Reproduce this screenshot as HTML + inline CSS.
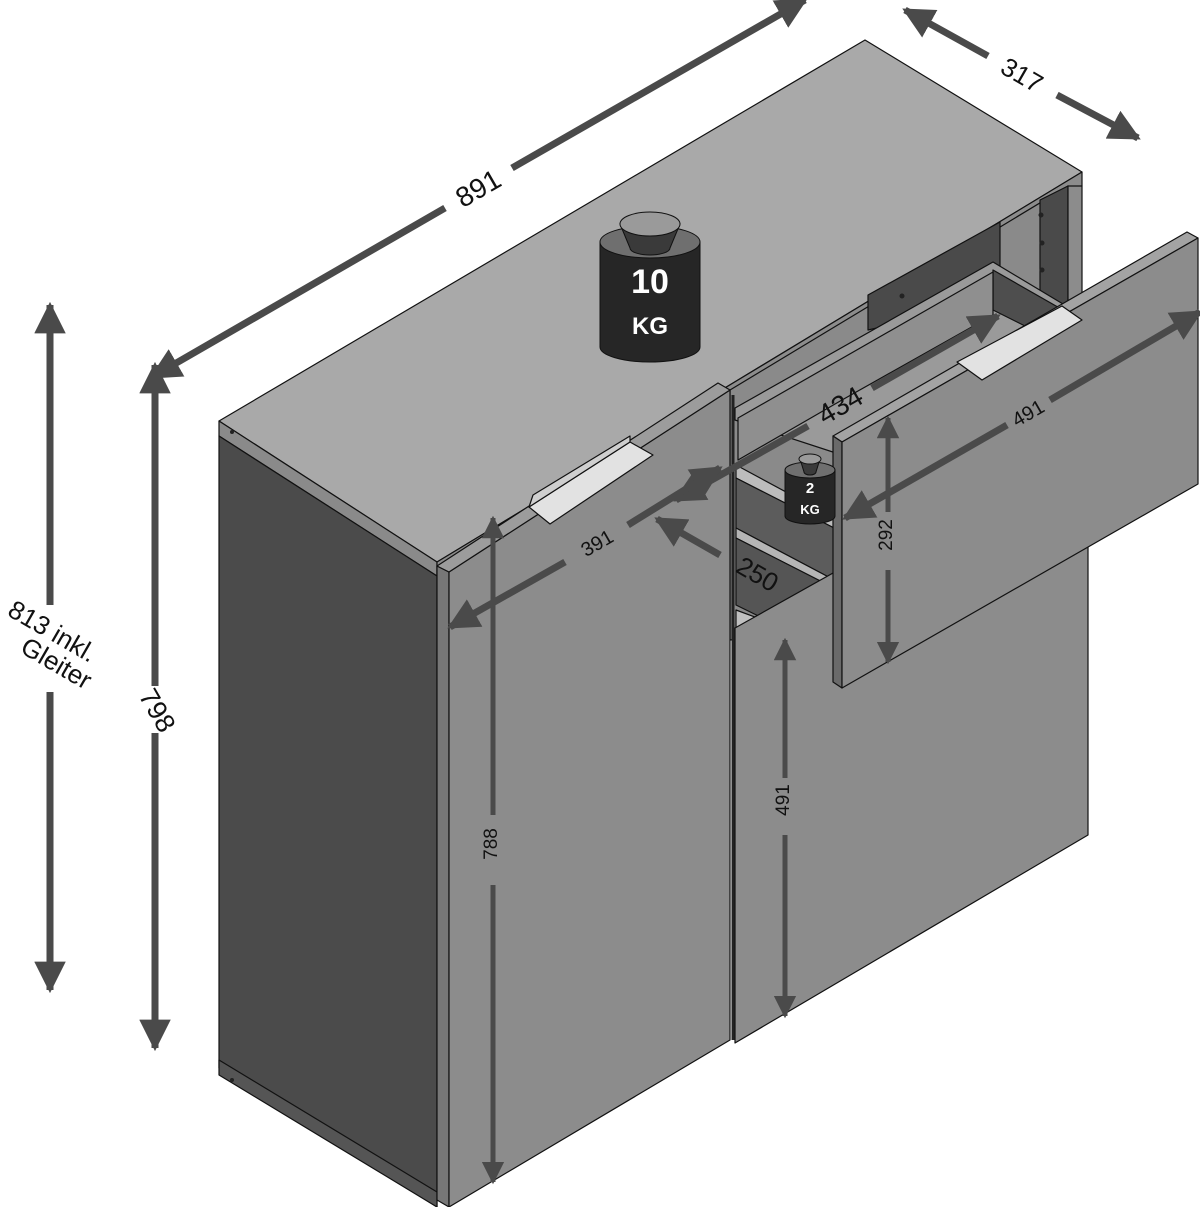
<!DOCTYPE html>
<html><head><meta charset="utf-8"><style>
html,body{margin:0;padding:0;background:#fff;}
svg{display:block;}
text{font-family:"Liberation Sans",sans-serif;}
</style></head><body>
<svg width="1200" height="1207" viewBox="0 0 1200 1207" xmlns="http://www.w3.org/2000/svg">
<defs>
<marker id="ah" viewBox="0 0 10 10" refX="9" refY="5" markerWidth="4.5" markerHeight="4.5" orient="auto-start-reverse" markerUnits="strokeWidth">
<path d="M0,0 L10,5 L0,10 z" fill="#4a4a4a"/></marker>
</defs>
<g stroke="#111" stroke-width="1.2" stroke-linejoin="round">
<polygon points="219,421 865,40 1082,172 437,562" fill="#a9a9a9"/>
<polygon points="219,421 437,562 437,576 219,436" fill="#8a8a8a"/>
<polygon points="437,562 1082,172 1082,186 437,576" fill="#8c8c8c"/>
<polygon points="219,436 437,576 437,1207 219,1068" fill="#4b4b4b"/>
<polygon points="219,1060 437,1192 437,1207 219,1075" fill="#555"/>
<!-- interior opening -->
<polygon points="730,390 1068,186 1068,600 730,640" fill="#8a8a8a"/>
<polygon points="1040,200 1068,186 1068,320 1040,320" fill="#4a4a4a"/>
<polygon points="1068,186 1082,186 1082,560 1068,560" fill="#8c8c8c"/>
<polygon points="868,295 1000,222 1000,300 868,330" fill="#4a4a4a"/>
<!-- drawer box -->
<polygon points="735,408 993,262 1063,304 1063,330 842,455 735,420" fill="#9a9a9a"/>
<polygon points="993,270 1063,310 1063,345 993,310" fill="#4e4e4e"/>
<polygon points="738,418 993,272 993,315 842,400 738,460" fill="#8f8f8f"/>
<polygon points="736,465 838,520 838,530 736,478" fill="#bcbcbc"/>
<polygon points="736,478 838,530 838,582 736,528" fill="#5c5c5c"/>
<polygon points="736,528 838,582 838,590 736,538" fill="#b5b5b5"/>
<polygon points="736,538 838,590 838,655 736,605" fill="#555"/>
<polygon points="736,610 790,630 736,640" fill="#c0c0c0"/>
<polygon points="735,628 1088,430 1088,835 735,1043" fill="#8c8c8c"/>
<polygon points="437,566 449,572 449,1207 437,1200" fill="#777"/>
<polygon points="449,572 730,390 730,1040 449,1207" fill="#8c8c8c"/>
<polygon points="437,566 718,383 730,390 449,572" fill="#9c9c9c"/>
<line x1="733" y1="395" x2="733" y2="1040" stroke="#222" stroke-width="3"/>
<polygon points="529,507 630,442 653,455 550,524" fill="#e2e2e2"/>
<polygon points="533,495 630,436 630,442 529,507" fill="#cfcfcf"/>
<polygon points="833,436 1187,232 1198,238 842,442" fill="#a3a3a3"/>
<polygon points="833,436 842,442 842,688 833,682" fill="#6a6a6a"/>
<polygon points="842,442 1198,238 1198,484 842,688" fill="#8c8c8c"/>
<polygon points="957,362 1062,306 1082,320 982,380" fill="#e2e2e2"/>
</g>
<g fill="#222"><circle cx="1041" cy="215" r="2.5"/><circle cx="1042" cy="243" r="2.5"/><circle cx="1042" cy="270" r="2.5"/><circle cx="902" cy="296" r="2.5"/><circle cx="232" cy="432" r="2"/><circle cx="232" cy="1080" r="2"/></g>

<g stroke="#111" stroke-width="1">
<path d="M600,242 L600,347 A50,15 0 0 0 700,347 L700,242 Z" fill="#262626"/>
<ellipse cx="650" cy="242" rx="50" ry="16" fill="#6f6f6f"/>
<path d="M620,224 L630,248 A20,7 0 0 0 670,248 L680,224 Z" fill="#3a3a3a"/>
<ellipse cx="650" cy="224" rx="30" ry="12" fill="#9a9a9a"/>
</g>
<text x="650" y="293" fill="#fff" font-size="34" font-weight="bold" text-anchor="middle">10</text>
<text x="650" y="334" fill="#fff" font-size="24" font-weight="bold" text-anchor="middle">KG</text>
<g stroke="#111" stroke-width="1">
<path d="M785,470 L785,516 A25,8 0 0 0 835,516 L835,470 Z" fill="#262626"/>
<ellipse cx="810" cy="470" rx="25" ry="8" fill="#6f6f6f"/>
<path d="M800,459 L804,472 A6,3 0 0 0 816,472 L820,459 Z" fill="#3a3a3a"/>
<ellipse cx="810" cy="459" rx="11" ry="5" fill="#9a9a9a"/>
</g>
<text x="810" y="493" fill="#fff" font-size="15" font-weight="bold" text-anchor="middle">2</text>
<text x="810" y="514" fill="#fff" font-size="13" font-weight="bold" text-anchor="middle">KG</text>

<g stroke="#4a4a4a" stroke-width="7" fill="none">
<line x1="152" y1="377" x2="445" y2="208" marker-start="url(#ah)"/>
<line x1="512" y1="168" x2="805" y2="0" marker-end="url(#ah)"/>
<line x1="905" y1="10" x2="988" y2="56" marker-start="url(#ah)"/>
<line x1="1057" y1="95" x2="1138" y2="138" marker-end="url(#ah)"/>
<line x1="50" y1="305" x2="50" y2="605" marker-start="url(#ah)"/>
<line x1="50" y1="692" x2="50" y2="990" marker-end="url(#ah)"/>
<line x1="155" y1="365" x2="155" y2="686" marker-start="url(#ah)"/>
<line x1="155" y1="733" x2="155" y2="1048" marker-end="url(#ah)"/>
<line x1="845" y1="518" x2="1007" y2="425" marker-start="url(#ah)"/>
<line x1="1050" y1="400" x2="1200" y2="312" marker-end="url(#ah)"/>
<line x1="676" y1="500" x2="808" y2="426" marker-start="url(#ah)"/>
<line x1="872" y1="388" x2="998" y2="316" marker-end="url(#ah)"/>
<line x1="450" y1="627" x2="565" y2="562" marker-start="url(#ah)"/>
<line x1="628" y1="525" x2="720" y2="468" marker-end="url(#ah)"/>
<line x1="720" y1="555" x2="657" y2="519" marker-end="url(#ah)"/>
</g>
<g stroke="#4a4a4a" stroke-width="5" fill="none">
<line x1="493" y1="518" x2="493" y2="815" marker-start="url(#ah)"/>
<line x1="493" y1="885" x2="493" y2="1182" marker-end="url(#ah)"/>
<line x1="785" y1="640" x2="785" y2="778" marker-start="url(#ah)"/>
<line x1="785" y1="835" x2="785" y2="1016" marker-end="url(#ah)"/>
<line x1="888" y1="418" x2="888" y2="512" marker-start="url(#ah)"/>
<line x1="888" y1="570" x2="888" y2="662" marker-end="url(#ah)"/>
</g>
<g fill="#111">
<text x="478" y="198" font-size="28" text-anchor="middle" transform="rotate(-30 478 188)">891</text>
<text x="1022" y="84" font-size="26" text-anchor="middle" transform="rotate(30 1022 75)">317</text>
<text x="52" y="640" font-size="26" text-anchor="middle" transform="rotate(30 52 632)">813 inkl.</text>
<text x="56" y="672" font-size="26" text-anchor="middle" transform="rotate(30 56 664)">Gleiter</text>
<text x="158" y="720" font-size="27" text-anchor="middle" transform="rotate(60 158 710)">798</text>
<text x="503" y="850" font-size="19" text-anchor="middle" transform="rotate(-90 497 850)">788</text>
<text x="795" y="806" font-size="19" text-anchor="middle" transform="rotate(-90 789 806)">491</text>
<text x="898" y="541" font-size="19" text-anchor="middle" transform="rotate(-90 892 541)">292</text>
<text x="1028" y="420" font-size="20" text-anchor="middle" transform="rotate(-30 1028 413)">491</text>
<text x="840" y="415" font-size="28" text-anchor="middle" transform="rotate(-30 840 405)">434</text>
<text x="597" y="550" font-size="20" text-anchor="middle" transform="rotate(-30 597 543)">391</text>
<text x="757" y="583" font-size="26" text-anchor="middle" transform="rotate(30 757 575)">250</text>
</g>
</svg>
</body></html>
